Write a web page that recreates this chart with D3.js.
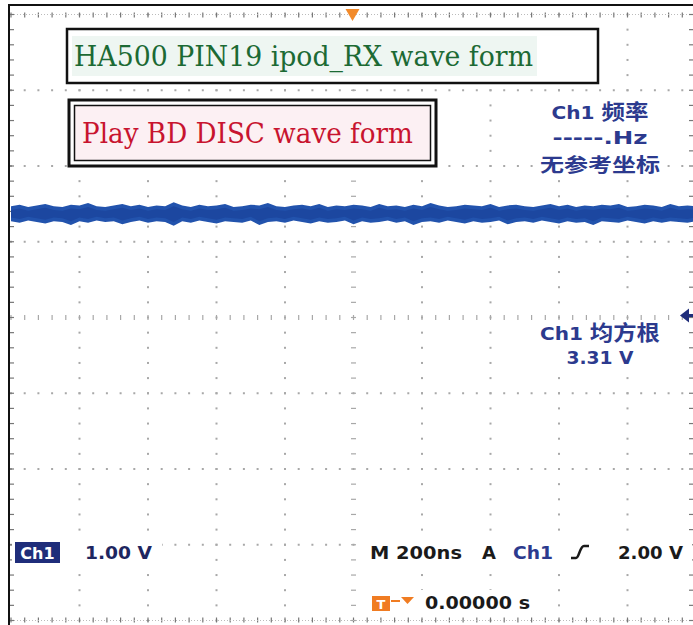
<!DOCTYPE html>
<html><head><meta charset="utf-8">
<script src="https://cdn.jsdelivr.net/npm/d3@7"></script>
<style>html,body{margin:0;padding:0;background:#fff;}svg{display:block;}</style>
</head><body>
<script>
// ---- data ----
const timeRange = [-1000, 1000];      // ns (200 ns/div, 10 div)
const voltRange = [-2, 6];            // V  (1.00 V/div, 8 div)
const traceUpper = [3.47,3.49,3.46,3.48,3.50,3.47,3.46,3.49,3.48,3.51,3.47,3.46,3.48,3.50,3.47,3.49,3.46,3.48,3.47,3.52,3.48,3.46,3.49,3.47,3.48,3.50,3.46,3.47,3.49,3.48,3.51,3.47,3.46,3.48,3.49,3.47,3.50,3.46,3.48,3.47,3.49,3.48,3.46,3.50,3.47,3.48,3.46,3.49,3.47,3.51,3.48,3.46,3.47,3.49,3.48,3.47,3.50,3.46,3.48,3.49,3.47,3.46,3.48,3.50,3.47,3.49,3.46,3.48,3.47,3.49,3.48,3.50,3.46,3.47,3.49,3.48,3.46,3.50,3.47,3.48,3.47];
const traceLower = [3.27,3.25,3.28,3.26,3.24,3.27,3.26,3.22,3.27,3.25,3.28,3.26,3.27,3.23,3.26,3.28,3.25,3.27,3.26,3.21,3.27,3.25,3.28,3.26,3.24,3.27,3.26,3.25,3.28,3.22,3.26,3.27,3.25,3.28,3.26,3.24,3.27,3.25,3.26,3.28,3.23,3.27,3.25,3.26,3.28,3.25,3.27,3.22,3.26,3.27,3.25,3.28,3.26,3.24,3.27,3.25,3.26,3.28,3.23,3.26,3.27,3.25,3.28,3.26,3.24,3.27,3.25,3.26,3.22,3.27,3.26,3.25,3.28,3.26,3.24,3.27,3.25,3.27,3.26,3.25,3.27];
const triggerLevel = 2.00;
const titleText = "HA500 PIN19 ipod_RX wave form";
const subtitleText = "Play BD DISC wave form";
const freqLines = [["Ch1 ", "频率"], ["-----.Hz", ""], ["", "无参考坐标"]];
const rmsLines = [["Ch1 ", "均方根"], ["3.31 V", ""]];
const scaleLabel = "1.00 V";
const timebaseLabel = "M 200ns";
const trigLabel = "2.00 V";
const posLabel = "0.00000 s";

// ---- setup ----
const W = 693, H = 625;
const svg = d3.select("body").append("svg").attr("width", W).attr("height", H);
const x = d3.scaleLinear().domain(timeRange).range([11, 696]);
const y = d3.scaleLinear().domain(voltRange).range([620.5, 14.5]);

// frame
svg.append("rect").attr("x", 9).attr("y", 5).attr("width", 720).attr("height", 640)
  .attr("fill", "#fff").attr("stroke", "#111").attr("stroke-width", 2);

const grid = svg.append("g");
const dotCol = "#a8a8a8";
const minorT = d3.range(timeRange[0], timeRange[1] + 1, 40);
const minorV = d3.range(voltRange[0], voltRange[1] + 0.001, 0.2);
const majorT = d3.range(-800, 801, 200).filter(d => d !== 0);
const majorV = d3.range(-1, 6, 1).filter(d => d !== 2);

majorV.forEach(v => {
  grid.selectAll(null).data(minorT).join("rect")
    .attr("x", t => x(t) - 1).attr("y", y(v) - 1).attr("width", 2).attr("height", 2).attr("fill", dotCol);
});
majorT.forEach(t => {
  grid.selectAll(null).data(minorV).join("rect")
    .attr("x", x(t) - 1).attr("y", v => y(v) - 1).attr("width", 2).attr("height", 2).attr("fill", dotCol);
});
grid.selectAll(null).data(minorT).join("line")
  .attr("x1", t => x(t)).attr("x2", t => x(t)).attr("y1", y(2) - 2.5).attr("y2", y(2) + 2.5)
  .attr("stroke", dotCol).attr("stroke-width", 1.2);
grid.selectAll(null).data(minorV).join("line")
  .attr("y1", v => y(v)).attr("y2", v => y(v)).attr("x1", x(0) - 2.5).attr("x2", x(0) + 2.5)
  .attr("stroke", dotCol).attr("stroke-width", 1.2);
const rulerCol = "#777";
grid.selectAll(null).data(minorT).join("line")
  .attr("x1", t => x(t)).attr("x2", t => x(t)).attr("y1", y(6) - 2).attr("y2", y(6) + 3)
  .attr("stroke", rulerCol).attr("stroke-width", 1.2);
grid.append("line").attr("x1", 11).attr("x2", 696).attr("y1", y(6)).attr("y2", y(6)).attr("stroke", "#bbb").attr("stroke-width", 1).attr("stroke-dasharray", "1,2");
grid.selectAll(null).data(minorT).join("line")
  .attr("x1", t => x(t)).attr("x2", t => x(t)).attr("y1", y(-2) - 3).attr("y2", y(-2) + 2)
  .attr("stroke", rulerCol).attr("stroke-width", 1.2);
grid.append("line").attr("x1", 11).attr("x2", 696).attr("y1", y(-2)).attr("y2", y(-2)).attr("stroke", "#bbb").attr("stroke-width", 1).attr("stroke-dasharray", "1,2");
grid.selectAll(null).data(minorV).join("line")
  .attr("y1", v => y(v)).attr("y2", v => y(v)).attr("x1", 10).attr("x2", 14)
  .attr("stroke", rulerCol).attr("stroke-width", 1.2);
grid.selectAll(null).data(minorV).join("line")
  .attr("y1", v => y(v)).attr("y2", v => y(v)).attr("x1", 689).attr("x2", 693)
  .attr("stroke", rulerCol).attr("stroke-width", 1.2);

// trace (noise envelope)
const n = traceUpper.length;
const tOf = i => timeRange[0] + i * (timeRange[1] - timeRange[0]) / (n - 1);
const traceData = traceUpper.map((u, i) => ({ t: tOf(i), u, l: traceLower[i] }));
const area = d3.area().x(d => x(d.t)).y0(d => y(d.l)).y1(d => y(d.u));
svg.append("path").datum(traceData).attr("d", area).attr("fill", "#2253ad");
svg.append("path").datum(traceData)
  .attr("d", d3.area().x(d => x(d.t)).y0(d => y(d.l + 0.05)).y1(d => y(d.u - 0.05)))
  .attr("fill", "#1c47a0");

// title box
svg.append("rect").attr("x", 67).attr("y", 29).attr("width", 531).attr("height", 54)
  .attr("fill", "#fff").attr("stroke", "#111").attr("stroke-width", 2.5);
svg.append("rect").attr("x", 72).attr("y", 36).attr("width", 465).attr("height", 40).attr("fill", "#eef6f2");
svg.append("text").attr("x", 74).attr("y", 66).text(titleText)
  .attr("font-family", "DejaVu Serif").attr("font-size", 27).attr("fill", "#1c6a34")
  .attr("textLength", 459).attr("lengthAdjust", "spacingAndGlyphs");

// subtitle double box
svg.append("rect").attr("x", 69).attr("y", 100).attr("width", 367).attr("height", 66)
  .attr("fill", "#fff").attr("stroke", "#111").attr("stroke-width", 3);
svg.append("rect").attr("x", 74.5).attr("y", 105.5).attr("width", 356).attr("height", 55)
  .attr("fill", "#fcf0f3").attr("stroke", "#111").attr("stroke-width", 1.5);
svg.append("text").attr("x", 82).attr("y", 143).text(subtitleText)
  .attr("font-family", "DejaVu Serif").attr("font-size", 27).attr("fill", "#c8142f")
  .attr("textLength", 331).attr("lengthAdjust", "spacingAndGlyphs");

// measurement readouts
const blue = "#2c3a8e";
function readout(lines, baselines, lengths, cx, cjkSize) {
  const g = svg.append("g").attr("fill", blue).attr("font-weight", "bold").attr("text-anchor", "middle");
  lines.forEach((parts, i) => {
    const t = g.append("text").attr("x", cx).attr("y", baselines[i])
      .attr("textLength", lengths[i]).attr("lengthAdjust", "spacingAndGlyphs");
    if (parts[0]) t.append("tspan").attr("font-family", "DejaVu Sans").attr("font-size", 18).text(parts[0]);
    if (parts[1]) t.append("tspan").attr("font-family", "Noto Sans CJK SC")
      .attr("font-size", parts[0] ? 21 : cjkSize).text(parts[1]);
  });
}
svg.append("rect").attr("x", 536).attr("y", 101).attr("width", 130).attr("height", 77).attr("fill", "#fff");
readout(freqLines, [119, 144, 172], [97, 95, 120], 600, 19);
svg.append("rect").attr("x", 536).attr("y", 322).attr("width", 130).attr("height", 46).attr("fill", "#fff");
readout(rmsLines, [340, 364], [120, 67], 600, 19);

// trigger level marker (right edge)
const ty = y(triggerLevel) - 2;
svg.append("path").attr("d", `M680,${ty} L689,${ty - 7} L689,${ty + 7} Z`).attr("fill", "#1f2d7a");
svg.append("line").attr("x1", 686).attr("x2", 693).attr("y1", ty).attr("y2", ty).attr("stroke", "#1f2d7a").attr("stroke-width", 3);

// trigger position marker (top)
const tx = x(0) - 1;
svg.append("path").attr("d", `M${tx - 7},9 L${tx + 7},9 L${tx},21 Z`).attr("fill", "#f28a2a");

// bottom status line
svg.append("rect").attr("x", 12).attr("y", 538).attr("width", 150).attr("height", 28).attr("fill", "#fff");
svg.append("rect").attr("x", 360).attr("y", 538).attr("width", 332).attr("height", 28).attr("fill", "#fff");
svg.append("rect").attr("x", 366).attr("y", 590).attr("width", 175).attr("height", 26).attr("fill", "#fff");
svg.append("rect").attr("x", 15).attr("y", 542).attr("width", 45).attr("height", 21).attr("fill", "#1f2d7a");
const sans = "DejaVu Sans";
svg.append("text").attr("x", 37.5).attr("y", 558.5).attr("text-anchor", "middle").text("Ch1")
  .attr("font-family", sans).attr("font-size", 16).attr("font-weight", "bold").attr("fill", "#fff");
svg.append("text").attr("x", 85).attr("y", 559).text(scaleLabel)
  .attr("font-family", sans).attr("font-size", 18).attr("font-weight", "bold").attr("fill", "#1e2660")
  .attr("textLength", 67).attr("lengthAdjust", "spacingAndGlyphs");
svg.append("text").attr("x", 370).attr("y", 559).text(timebaseLabel)
  .attr("font-family", sans).attr("font-size", 18).attr("font-weight", "bold").attr("fill", "#1a1a1a")
  .attr("textLength", 92).attr("lengthAdjust", "spacingAndGlyphs");
svg.append("text").attr("x", 482).attr("y", 559).text("A")
  .attr("font-family", sans).attr("font-size", 18).attr("font-weight", "bold").attr("fill", "#1a1a1a");
svg.append("text").attr("x", 513).attr("y", 559).text("Ch1")
  .attr("font-family", sans).attr("font-size", 18).attr("font-weight", "bold").attr("fill", blue)
  .attr("textLength", 40).attr("lengthAdjust", "spacingAndGlyphs");
svg.append("path").attr("d", "M571,558 L576,558 C579,558 580,546 584,546 L589,546")
  .attr("fill", "none").attr("stroke", "#1a1a1a").attr("stroke-width", 2.6);
svg.append("text").attr("x", 618).attr("y", 559).text(trigLabel)
  .attr("font-family", sans).attr("font-size", 18).attr("font-weight", "bold").attr("fill", "#1a1a1a")
  .attr("textLength", 65).attr("lengthAdjust", "spacingAndGlyphs");
// position icon
svg.append("rect").attr("x", 372).attr("y", 596).attr("width", 18).attr("height", 15).attr("fill", "#f07c22");
svg.append("text").attr("x", 381).attr("y", 609).attr("text-anchor", "middle").text("T")
  .attr("font-family", sans).attr("font-size", 13).attr("font-weight", "bold").attr("fill", "#fff");
svg.append("line").attr("x1", 391).attr("x2", 400).attr("y1", 601).attr("y2", 601).attr("stroke", "#f07c22").attr("stroke-width", 2);
svg.append("path").attr("d", "M401,597 L414,597 L407.5,604 Z").attr("fill", "#f07c22");
svg.append("text").attr("x", 425).attr("y", 609).text(posLabel)
  .attr("font-family", sans).attr("font-size", 18).attr("font-weight", "bold").attr("fill", "#1a1a1a")
  .attr("textLength", 105).attr("lengthAdjust", "spacingAndGlyphs");
</script>
</body></html>
